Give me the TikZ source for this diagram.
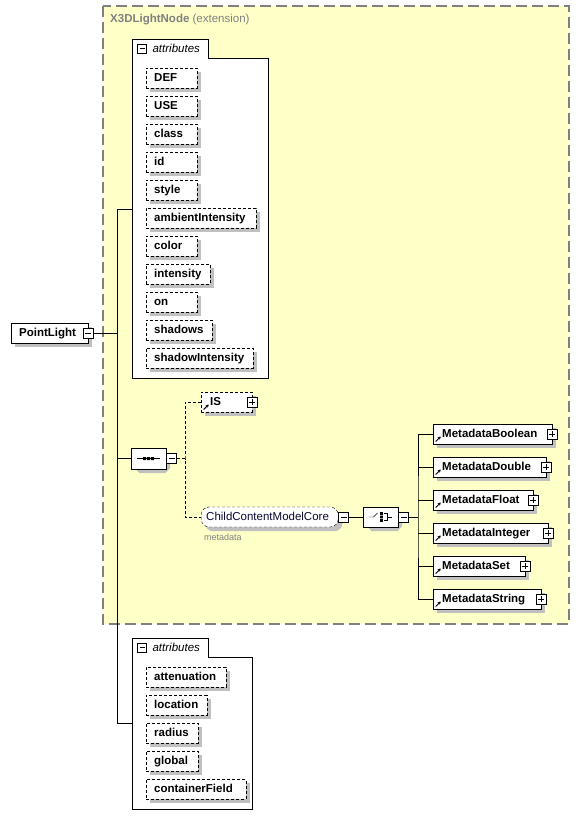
\documentclass[tikz,border=0pt]{standalone}
\usepackage{fontspec}
\setmainfont{Liberation Sans}
\usetikzlibrary{shapes.misc, arrows.meta, positioning, calc}
\pgfdeclarelayer{back}
\pgfdeclarelayer{shade}
\pgfsetlayers{back,shade,main}

\definecolor{extfill}{RGB}{255,255,200}
\definecolor{extborder}{RGB}{128,128,128}
\definecolor{shadowgray}{RGB}{192,192,192}
\definecolor{groupblue}{RGB}{10,10,50}

\begin{document}
\begin{tikzpicture}[x=1pt, y=-1pt, line width=1pt]
    \tikzstyle{extbox} = [draw=extborder, fill=extfill, line width=1.2pt, dash pattern=on 11pt off 5pt]
    \tikzstyle{panel} = [draw=black, fill=white]
    \tikzstyle{attr} = [rectangle, draw=black, fill=white, dash pattern=on 3pt off 2pt, anchor=north west, minimum height=20pt, inner xsep=8pt, inner ysep=0pt, align=left, text height=8.5pt, text depth=2.5pt, font=\fontsize{11.5pt}{13pt}\selectfont\bfseries]
    \tikzstyle{elem} = [rectangle, draw=black, fill=white, anchor=west, minimum height=20pt, inner xsep=9pt, inner ysep=0pt, align=left, text height=8.5pt, text depth=2.5pt, font=\fontsize{11.5pt}{13pt}\selectfont\bfseries]
    \tikzstyle{refmark} = [path picture={\draw[solid, line width=1pt, -{Stealth[length=3pt,width=3.5pt]}] ([shift={(2.5pt,2.5pt)}]path picture bounding box.south west) -- ++(5pt,5pt);}]
    \tikzstyle{groupbox} = [rectangle, rounded corners=8pt, draw=black, fill=white, dash pattern=on 3pt off 2pt, anchor=west, minimum height=20pt, inner xsep=5pt, inner ysep=0pt, align=left, text height=8.5pt, text depth=2.5pt, text=groupblue, font=\fontsize{11.5pt}{13pt}\selectfont]
    \tikzstyle{model} = [chamfered rectangle, chamfered rectangle sep=5pt, draw=black, fill=white, inner sep=0pt, minimum width=35pt, minimum height=20pt]
    \tikzstyle{plusbox} = [rectangle, draw=black, fill=white, minimum size=10pt, inner sep=0pt, line width=0.8pt, path picture={\draw[solid, line width=0.8pt] ([xshift=2pt]path picture bounding box.west) -- ([xshift=-2pt]path picture bounding box.east) ([yshift=-2pt]path picture bounding box.north) -- ([yshift=2pt]path picture bounding box.south);}]
    \tikzstyle{minusbox} = [rectangle, draw=black, fill=white, minimum size=10pt, inner sep=0pt, line width=0.8pt, path picture={\draw[solid, line width=0.8pt] ([xshift=2pt]path picture bounding box.west) -- ([xshift=-2pt]path picture bounding box.east);}]
    \tikzstyle{tablabel} = [inner sep=0pt, font=\fontsize{11.5pt}{13pt}\selectfont\itshape]
    \tikzstyle{optline} = [dash pattern=on 3pt off 2pt]
    \tikzstyle{shadowfill} = [fill=shadowgray, draw=none]

    \useasboundingbox (0,0) rectangle (580,829);

    % extension of X3DLightNode, attribute panels
    \begin{pgfonlayer}{back}
        \draw[extbox] (103,6) rectangle (569,624);
        \draw[panel] (132,378) -- (132,39) -- (208,39) -- (208,58) -- (268,58) -- (268,378) -- cycle;
        \draw[panel] (132,809) -- (132,638) -- (208,638) -- (208,657) -- (252,657) -- (252,809) -- cycle;
    \end{pgfonlayer}
    \node[anchor=west, inner sep=0pt, text=extborder, font=\fontsize{11.5pt}{13pt}\selectfont] (exttitle) at (110,20) {\textbf{X3DLightNode} (extension)};

    % first attribute group
    \node[minusbox, minimum size=9pt] (attrtoggle) at (142,48.5) {};
    \node[tablabel, right=5.5pt of attrtoggle] (attrlabel) {attributes};

    \node[attr, text width=35pt] (def) at (146,68) {DEF};
    \node[attr, text width=35pt] (use) at (146,96) {USE};
    \node[attr, text width=35pt] (class) at (146,124) {class};
    \node[attr, text width=35pt] (id) at (146,152) {id};
    \node[attr, text width=35pt] (style) at (146,180) {style};
    \node[attr, text width=94pt] (ambientintensity) at (146,208) {ambientIntensity};
    \node[attr, text width=35pt] (color) at (146,236) {color};
    \node[attr, text width=48pt] (intensity) at (146,264) {intensity};
    \node[attr, text width=35pt] (on) at (146,292) {on};
    \node[attr, text width=50pt] (shadows) at (146,320) {shadows};
    \node[attr, text width=91pt] (shadowintensity) at (146,348) {shadowIntensity};

    % the element itself
    \node[elem, inner xsep=8pt, text width=61pt] (pointlight) at (11,333) {PointLight};
    \node[minusbox] (pltoggle) at (pointlight.east) {};

    % sequence
    \node[model, minimum height=21pt] (seq) at (148.5,458.5) {};
    \node[minusbox, right=0pt of seq] (seqtoggle) {};
    \draw ([xshift=-11.5pt]seq.center) -- ([xshift=11.5pt]seq.center);
    \fill ([shift={(-5.5pt,-1.5pt)}]seq.center) rectangle ++(3pt,3pt)
          ([shift={(-1.5pt,-1.5pt)}]seq.center) rectangle ++(3pt,3pt)
          ([shift={(2.5pt,-1.5pt)}]seq.center) rectangle ++(3pt,3pt);

    \node[elem, refmark, optline, text width=33pt] (is) at (201,402) {IS};
    \node[plusbox] (istoggle) at (is.east) {};

    \node[groupbox, text width=127pt] (ccmc) at (201,517) {ChildContentModelCore};
    \node[minusbox, right=0pt of ccmc] (ccmctoggle) {};
    \node[below right=4pt and 0pt of ccmc.south west, inner sep=3pt, text=extborder, font=\fontsize{9pt}{10pt}\selectfont] (ccmcnote) {metadata};

    % choice
    \node[model] (choice) at (380.5,517) {};
    \node[minusbox, right=0pt of choice] (choicetoggle) {};
    \draw ([xshift=-12pt]choice.center) -- ([xshift=-7pt]choice.center) -- ([shift={(-3pt,4pt)}]choice.center);
    \fill ([shift={(-0.3pt,2.2pt)}]choice.center) rectangle ++(2.6pt,2.6pt)
          ([shift={(-0.3pt,-1.3pt)}]choice.center) rectangle ++(2.6pt,2.6pt)
          ([shift={(-0.3pt,-4.8pt)}]choice.center) rectangle ++(2.6pt,2.6pt);
    \draw ([shift={(3pt,3.5pt)}]choice.center) -- ([shift={(7pt,3.5pt)}]choice.center) -- ([shift={(7pt,-3.5pt)}]choice.center) -- ([shift={(3pt,-3.5pt)}]choice.center)
          ([xshift=7pt]choice.center) -- ([xshift=11pt]choice.center);

    \node[elem, refmark, text width=101pt] (mboolean) at (433,434) {MetadataBoolean};
    \node[elem, refmark, text width=95pt] (mdouble) at (433,467) {MetadataDouble};
    \node[elem, refmark, text width=82pt] (mfloat) at (433,500) {MetadataFloat};
    \node[elem, refmark, text width=97pt] (minteger) at (433,533) {MetadataInteger};
    \node[elem, refmark, text width=74pt] (mset) at (433,566) {MetadataSet};
    \node[elem, refmark, text width=90pt] (mstring) at (433,599) {MetadataString};
    \node[plusbox] (mbooleantoggle) at (mboolean.east) {};
    \node[plusbox] (mdoubletoggle) at (mdouble.east) {};
    \node[plusbox] (mfloattoggle) at (mfloat.east) {};
    \node[plusbox] (mintegertoggle) at (minteger.east) {};
    \node[plusbox] (msettoggle) at (mset.east) {};
    \node[plusbox] (mstringtoggle) at (mstring.east) {};

    % second attribute group
    \node[minusbox, minimum size=9pt] (attrtoggletwo) at (142,647.5) {};
    \node[tablabel, right=5.5pt of attrtoggletwo] (attrlabeltwo) {attributes};

    \node[attr, text width=64pt] (attenuation) at (146,667) {attenuation};
    \node[attr, text width=44.5pt] (location) at (146,695) {location};
    \node[attr, text width=36pt] (radius) at (146,723) {radius};
    \node[attr, text width=36pt] (global) at (146,751) {global};
    \node[attr, text width=83.5pt] (containerfield) at (146,779) {containerField};

    % shadows
    \begin{pgfonlayer}{shade}
        \foreach \n in {def,use,class,id,style,ambientintensity,color,intensity,on,shadows,shadowintensity,
                        pointlight,is,mboolean,mdouble,mfloat,minteger,mset,mstring,
                        attenuation,location,radius,global,containerfield}
            \fill[shadowfill] ([shift={(4pt,-4pt)}]\n.south west) rectangle ([shift={(4pt,-4pt)}]\n.north east);
        \fill[shadowfill, rounded corners=8pt] ([shift={(4pt,-4pt)}]ccmc.south west) rectangle ([shift={(4pt,-4pt)}]ccmc.north east);
        \foreach \n in {seq,choice}
            \fill[shadowfill] ($(\n.west |- \n.north)+(9pt,-4pt)$) -- ($(\n.east |- \n.north)+(-1pt,-4pt)$)
                -- ($(\n.east |- \n.north)+(4pt,-9pt)$) -- ($(\n.east |- \n.south)+(4pt,1pt)$)
                -- ($(\n.east |- \n.south)+(-1pt,-4pt)$) -- ($(\n.west |- \n.south)+(9pt,-4pt)$)
                -- ($(\n.west |- \n.south)+(4pt,1pt)$) -- ($(\n.west |- \n.north)+(4pt,-9pt)$) -- cycle;
    \end{pgfonlayer}

    % connectors
    \coordinate (trunktop) at (117,209);
    \coordinate (trunkbottom) at (117,723);
    \coordinate (attrsin) at (132,209);
    \coordinate (attrsintwo) at (132,723);
    \coordinate (seqfork) at (185,458.5);
    \coordinate (choicefork) at (418,517);

    \draw (pltoggle.east) -- (pltoggle.east -| trunktop);
    \draw (attrsin) -| (trunkbottom) -- (attrsintwo);
    \draw (seq.west) -- (seq.west -| trunktop);
    \draw[optline] (seqtoggle.east) -- (seqfork);
    \draw[optline] (is.west) -| (seqfork) |- (ccmc.west);
    \draw (ccmctoggle.east) -- (choice.west);
    \draw (choicetoggle.east) -- (choicefork);
    \draw (mboolean.west) -| (choicefork) |- (mstring.west);
    \draw (mdouble.west) -- (mdouble.west -| choicefork);
    \draw (mfloat.west) -- (mfloat.west -| choicefork);
    \draw (minteger.west) -- (minteger.west -| choicefork);
    \draw (mset.west) -- (mset.west -| choicefork);
\end{tikzpicture}
\end{document}
